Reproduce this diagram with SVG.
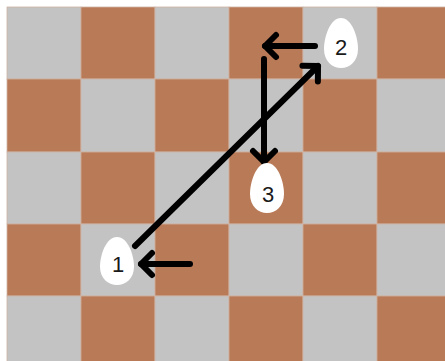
<svg xmlns="http://www.w3.org/2000/svg" width="445" height="361" viewBox="0 0 445 361">
<style>
.g{fill:#C3C3C3}
.b{fill:#B97A57}
.egg{fill:#FFFFFF}
.lbl{font-family:"Liberation Sans","Open Sans",sans-serif;font-size:22px;fill:#1a1a1a;text-anchor:middle}
.arr{stroke:#000;stroke-width:6;stroke-linecap:round;fill:none;marker-end:url(#head)}
</style>
<defs>
<marker id="head" markerUnits="userSpaceOnUse" viewBox="-16 -16 32 32" markerWidth="32" markerHeight="32" refX="0" refY="0" orient="auto" overflow="visible">
<path d="M -11,-11 L 0,0 L -11,11" stroke="#000" stroke-width="6" stroke-linecap="round" stroke-linejoin="round" fill="none"/>
</marker>
<path id="eggshape" d="M 0,-25 C 11,-25 17,-6 17,6 C 17,18 9,25 0,25 C -9,25 -17,18 -17,6 C -17,-6 -11,-25 0,-25 Z"/>
</defs>
<rect x="0" y="0" width="445" height="361" fill="#FFFFFF"/>
<g id="board" stroke="#CDB2A4" stroke-width="0.8">
<rect class="g" x="7" y="7" width="74" height="72"/><rect class="b" x="81" y="7" width="74" height="72"/><rect class="g" x="155" y="7" width="74" height="72"/><rect class="b" x="229" y="7" width="74" height="72"/><rect class="g" x="303" y="7" width="74" height="72"/><rect class="b" x="377" y="7" width="74" height="72"/>
<rect class="b" x="7" y="79" width="74" height="73"/><rect class="g" x="81" y="79" width="74" height="73"/><rect class="b" x="155" y="79" width="74" height="73"/><rect class="g" x="229" y="79" width="74" height="73"/><rect class="b" x="303" y="79" width="74" height="73"/><rect class="g" x="377" y="79" width="74" height="73"/>
<rect class="g" x="7" y="152" width="74" height="72"/><rect class="b" x="81" y="152" width="74" height="72"/><rect class="g" x="155" y="152" width="74" height="72"/><rect class="b" x="229" y="152" width="74" height="72"/><rect class="g" x="303" y="152" width="74" height="72"/><rect class="b" x="377" y="152" width="74" height="72"/>
<rect class="b" x="7" y="224" width="74" height="72"/><rect class="g" x="81" y="224" width="74" height="72"/><rect class="b" x="155" y="224" width="74" height="72"/><rect class="g" x="229" y="224" width="74" height="72"/><rect class="b" x="303" y="224" width="74" height="72"/><rect class="g" x="377" y="224" width="74" height="72"/>
<rect class="g" x="7" y="296" width="74" height="72"/><rect class="b" x="81" y="296" width="74" height="72"/><rect class="g" x="155" y="296" width="74" height="72"/><rect class="b" x="229" y="296" width="74" height="72"/><rect class="g" x="303" y="296" width="74" height="72"/><rect class="b" x="377" y="296" width="74" height="72"/>
</g>
<g id="connectors">
<line class="arr" x1="190" y1="264" x2="141" y2="264"/>
<line class="arr" x1="135" y1="246" x2="318" y2="66"/>
<line class="arr" x1="315" y1="46" x2="265" y2="46"/>
<line class="arr" x1="264" y1="59" x2="264" y2="162"/>
</g>
<g id="node1">
<use href="#eggshape" class="egg" transform="translate(117,261) scale(1,0.96)"/>
<text class="lbl" x="118" y="272">1</text>
</g>
<g id="node2">
<use href="#eggshape" class="egg" transform="translate(341,43)"/>
<text class="lbl" x="341" y="55">2</text>
</g>
<g id="node3">
<use href="#eggshape" class="egg" transform="translate(267,188)"/>
<text class="lbl" x="268" y="202">3</text>
</g>
</svg>
